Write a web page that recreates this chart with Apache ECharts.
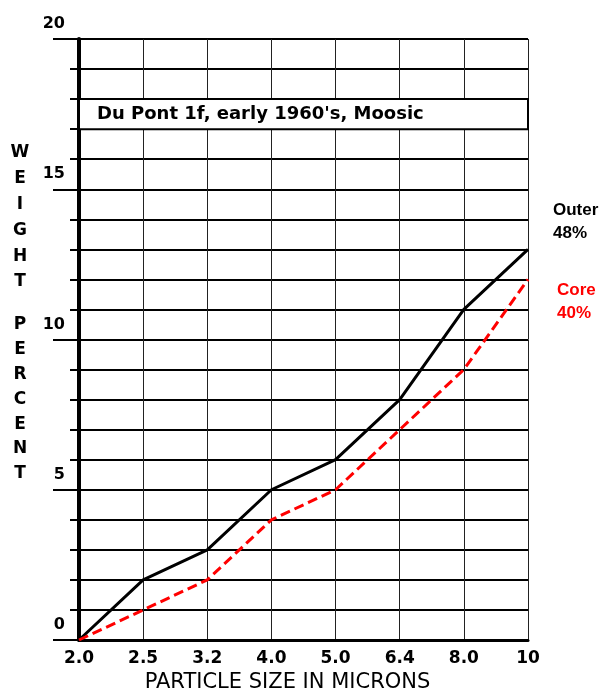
<!DOCTYPE html>
<html>
<head>
<meta charset="utf-8">
<script src="https://cdn.jsdelivr.net/npm/echarts@6/dist/echarts.min.js"></script>
<style>
html,body{margin:0;padding:0;background:#fff;}
#c{width:608px;height:696px;}
</style>
</head>
<body>
<div id="c"></div>
<script>
const categories = ['2.0', '2.5', '3.2', '4.0', '5.0', '6.4', '8.0', '10'];
const outerValues = [0, 2, 3, 5, 6, 8, 11, 13];
const coreValues = [0, 1, 2, 4, 5, 7, 9, 12];
const titleText = "Du Pont 1f, early 1960's, Moosic";
const xAxisTitle = 'PARTICLE SIZE IN MICRONS';
const yTitleTop = 'W\nE\nI\nG\nH\nT';
const yTitleBottom = 'P\nE\nR\nC\nE\nN\nT';
const outerLabel = 'Outer\n48%';
const coreLabel = 'Core\n40%';

const chart = echarts.init(document.getElementById('c'), null, {renderer: 'canvas'});
const boldFont = 'DejaVu Sans';

chart.setOption({
  backgroundColor: '#fff',
  animation: false,
  grid: {left: 79, right: 80, top: 39, bottom: 56, containLabel: false, outerBoundsMode: 'none'},
  xAxis: {
    type: 'category',
    data: categories,
    boundaryGap: false,
    axisLine: {show: true, lineStyle: {color: '#000', width: 3}},
    axisTick: {show: false},
    axisLabel: {color: '#000', fontFamily: boldFont, fontWeight: 'bold', fontSize: 17, margin: 10, interval: 0},
    splitLine: {show: true, lineStyle: {color: '#222', width: 1}}
  },
  yAxis: [
    {
      type: 'value', min: 0, max: 20, interval: 1, position: 'left',
      axisLine: {show: true, lineStyle: {color: '#000', width: 4}},
      axisTick: {show: true, length: 9, lineStyle: {color: '#000', width: 2}},
      axisLabel: {show: false},
      splitLine: {show: true, lineStyle: {color: '#000', width: 2}}
    },
    {
      type: 'value', min: 0, max: 20, interval: 5, position: 'left', offset: 0,
      axisLine: {show: false},
      axisTick: {show: true, length: 26, lineStyle: {color: '#000', width: 2}},
      axisLabel: {show: true, color: '#000', fontFamily: boldFont, fontWeight: 'bold', fontSize: 16,
        margin: 14, verticalAlign: 'bottom', lineHeight: 30},
      splitLine: {show: false}
    }
  ],
  series: [
    {
      name: 'Outer', type: 'line', data: outerValues, yAxisIndex: 0,
      symbol: 'none', lineStyle: {color: '#000', width: 3}, z: 3,
      markArea: {
        silent: true,
        itemStyle: {color: '#fff', borderColor: '#000', borderWidth: 2},
        label: {show: true, position: 'insideLeft', distance: 19, formatter: titleText,
          color: '#000', fontFamily: boldFont, fontWeight: 'bold', fontSize: 18},
        data: [[{xAxis: categories[0], yAxis: 17}, {xAxis: categories[categories.length - 1], yAxis: 18}]]
      }
    },
    {
      name: 'Core', type: 'line', data: coreValues, yAxisIndex: 0,
      symbol: 'none', lineStyle: {color: '#ff0000', width: 3, type: [10, 5]}, z: 4
    }
  ],
  graphic: [
    {type: 'text', x: 20, y: 140, style: {text: yTitleTop, fill: '#000',
      font: 'bold 17px "DejaVu Sans"', align: 'center', verticalAlign: 'top', lineHeight: 25.8}},
    {type: 'text', x: 20, y: 312.6, style: {text: yTitleBottom, fill: '#000',
      font: 'bold 17px "DejaVu Sans"', align: 'center', verticalAlign: 'top', lineHeight: 24.8}},
    {type: 'text', x: 287.5, y: 683, style: {text: xAxisTitle, fill: '#000',
      font: '21px "DejaVu Sans"', align: 'center', verticalAlign: 'middle'}},
    {type: 'text', x: 553, y: 198.5, style: {text: outerLabel, fill: '#000',
      font: 'bold 17px "Liberation Sans"', align: 'left', verticalAlign: 'top', lineHeight: 23}},
    {type: 'text', x: 557, y: 278.5, style: {text: coreLabel, fill: '#ff0000',
      font: 'bold 17px "Liberation Sans"', align: 'left', verticalAlign: 'top', lineHeight: 23}}
  ]
});
</script>
</body>
</html>
